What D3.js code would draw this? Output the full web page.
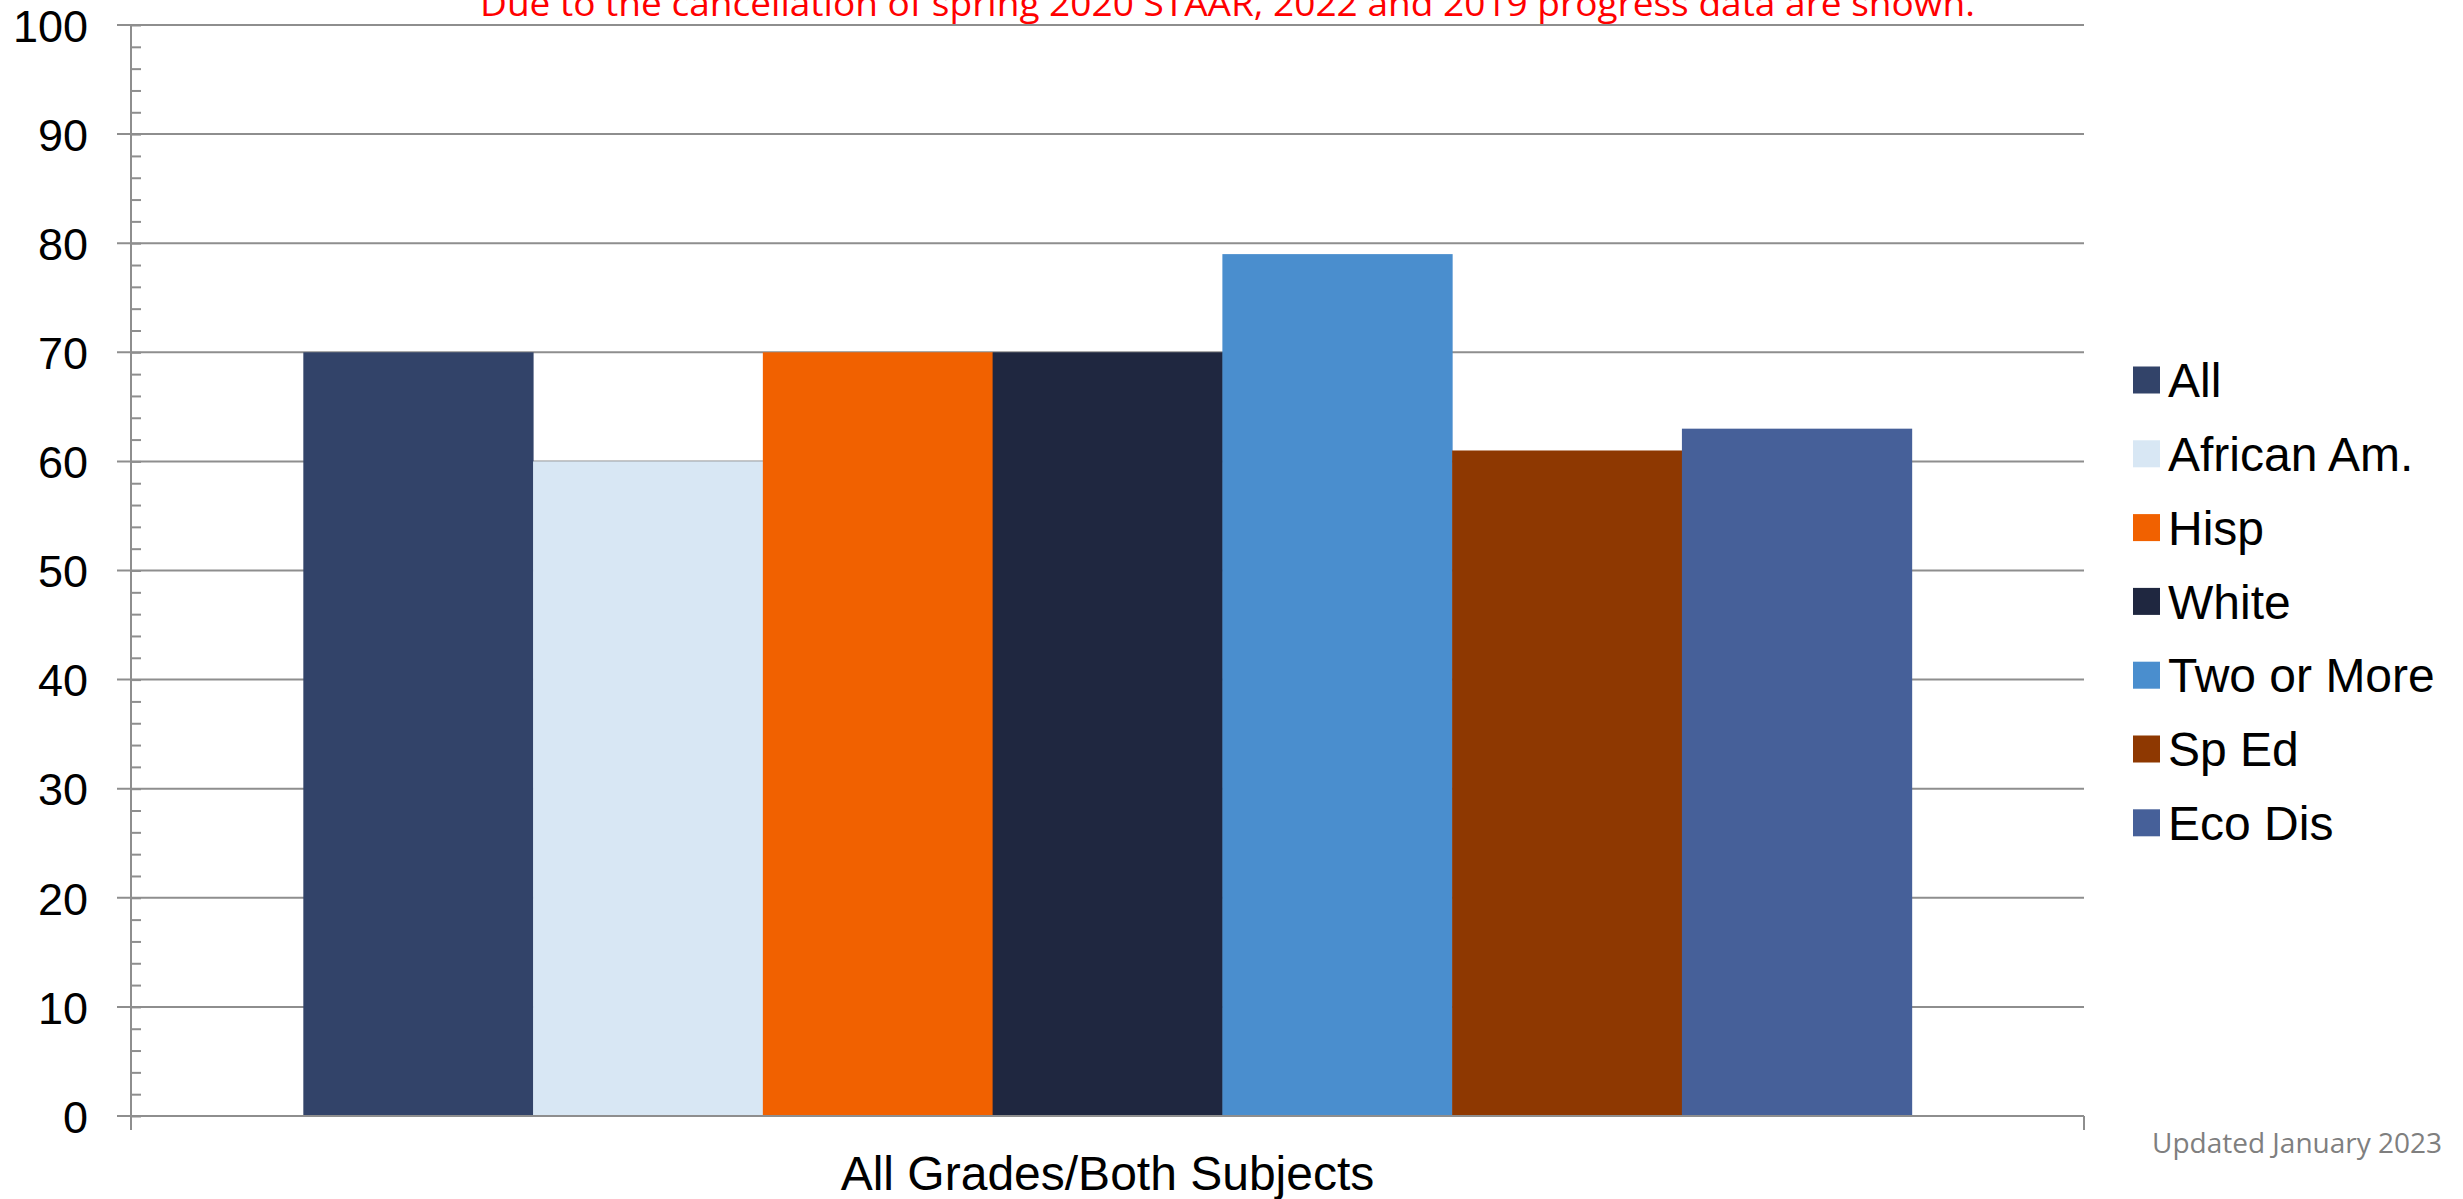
<!DOCTYPE html>
<html>
<head>
<meta charset="utf-8">
<script src="https://cdn.jsdelivr.net/npm/d3@7"></script>
<style>
  html, body { margin: 0; padding: 0; background: #ffffff; overflow: hidden; }
  svg { display: block; }
</style>
</head>
<body>
<svg id="chart" width="2463" height="1199"></svg>
<script>
// ---- data ----
const categories = ["All Grades/Both Subjects"];
const seriesNames = ["All", "African Am.", "Hisp", "White", "Two or More", "Sp Ed", "Eco Dis"];
const seriesValues = [70, 60, 70, 70, 79, 61, 63];
const seriesColors = ["#324369", "#D8E7F4", "#F16100", "#1F2740", "#4A8ECE", "#8E3801", "#466099"];
const yTicks = [0, 10, 20, 30, 40, 50, 60, 70, 80, 90, 100];
const titleText = "Due to the cancellation of spring 2020 STAAR, 2022 and 2019 progress data are shown.";
const footnoteText = "Updated January 2023";

// ---- layout ----
const svg = d3.select("#chart");
const plot = { left: 131, right: 2084, top: 25, bottom: 1116 };
const gridColor = "#8E8E8E";

const y = d3.scaleLinear().domain([0, 100]).range([plot.bottom, plot.top]);
const x0 = d3.scaleBand().domain(categories).range([plot.left, plot.right])
  .paddingInner(0).paddingOuter(0.75 / 7);
const x1 = d3.scaleBand().domain(seriesNames).range([0, x0.bandwidth()]).padding(0);

// gridlines
svg.append("g").selectAll("line").data(yTicks).join("line")
  .attr("x1", plot.left - 14).attr("x2", plot.right)
  .attr("y1", d => y(d)).attr("y2", d => y(d))
  .attr("stroke", gridColor).attr("stroke-width", 2);

// bars
const rows = seriesNames.map((s, i) => ({ name: s, value: seriesValues[i], color: seriesColors[i], cat: categories[0] }));
svg.append("g").selectAll("rect").data(rows).join("rect")
  .attr("x", d => x0(d.cat) + x1(d.name))
  .attr("y", d => y(d.value))
  .attr("width", x1.bandwidth() + 0.5)
  .attr("height", d => y(0) - y(d.value))
  .attr("fill", d => d.color);

// x axis baseline
svg.append("line")
  .attr("x1", plot.left - 14).attr("x2", plot.right)
  .attr("y1", y(0)).attr("y2", y(0))
  .attr("stroke", gridColor).attr("stroke-width", 2);
// category boundary ticks
svg.append("g").selectAll("line").data([plot.left, plot.right]).join("line")
  .attr("x1", d => d).attr("x2", d => d)
  .attr("y1", y(0)).attr("y2", y(0) + 14)
  .attr("stroke", gridColor).attr("stroke-width", 2);

// minor ticks (inside)
const minorAxis = d3.axisRight(y).tickValues(d3.range(0, 101, 2)).tickSize(10).tickFormat("");
const gMinor = svg.append("g").attr("transform", `translate(${plot.left},0)`).call(minorAxis);
gMinor.select(".domain").remove();
gMinor.selectAll("line").attr("stroke", gridColor).attr("stroke-width", 2);

// y axis line
svg.append("line")
  .attr("x1", plot.left).attr("x2", plot.left)
  .attr("y1", plot.top).attr("y2", y(0) + 14)
  .attr("stroke", gridColor).attr("stroke-width", 2);

// y labels
const yAxis = d3.axisLeft(y).tickValues(yTicks).tickSize(0).tickPadding(43).tickFormat(d3.format("d"));
const gY = svg.append("g").attr("transform", `translate(${plot.left},0)`).call(yAxis);
gY.select(".domain").remove();
gY.selectAll("text")
  .attr("font-family", "'Liberation Sans', Arial, sans-serif")
  .attr("font-size", 45).attr("fill", "#000").attr("dy", "0.36em");

// x category label
svg.append("g").selectAll("text").data(categories).join("text")
  .attr("x", d => x0(d) + x0.bandwidth() / 2)
  .attr("y", 1190)
  .attr("text-anchor", "middle")
  .attr("font-family", "'Liberation Sans', Arial, sans-serif")
  .attr("font-size", 48).attr("fill", "#000")
  .text(d => d);

// legend
const legend = svg.append("g").attr("transform", "translate(2133,380)");
const li = legend.selectAll("g").data(rows).join("g")
  .attr("transform", (d, i) => `translate(0,${i * 73.8})`);
li.append("rect").attr("x", 0).attr("y", -13.5).attr("width", 27).attr("height", 27)
  .attr("fill", d => d.color);
li.append("text").attr("x", 35).attr("y", 0).attr("dy", "0.36em")
  .attr("font-family", "'Liberation Sans', Arial, sans-serif")
  .attr("font-size", 48).attr("fill", "#000")
  .text(d => d.name);

// title (red, cut at top)
svg.append("text")
  .attr("x", 480).attr("y", 16)
  .attr("font-family", "'Open Sans', sans-serif")
  .attr("font-size", 35).attr("fill", "#FF0000")
  .attr("textLength", 1495).attr("lengthAdjust", "spacingAndGlyphs")
  .text(titleText);

// footnote
svg.append("text")
  .attr("x", 2152).attr("y", 1153)
  .attr("font-family", "'Open Sans', sans-serif")
  .attr("font-size", 28).attr("fill", "#7F7F7F")
  .text(footnoteText);
</script>
</body>
</html>
